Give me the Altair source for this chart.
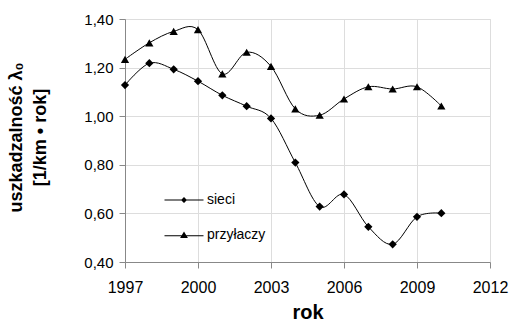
import altair as alt
import pandas as pd

years = list(range(1997, 2011))
sieci = [1.128, 1.218, 1.193, 1.144, 1.086, 1.041, 0.991, 0.809, 0.628, 0.678, 0.545, 0.473, 0.586, 0.601]
przylaczy = [1.234, 1.302, 1.349, 1.356, 1.174, 1.263, 1.205, 1.030, 1.004, 1.071, 1.121, 1.112, 1.121, 1.042]
series = ["sieci", "przyłaczy"]
x_ticks = [1997, 2000, 2003, 2006, 2009, 2012]
y_ticks = [0.4, 0.6, 0.8, 1.0, 1.2, 1.4]

df = pd.DataFrame({
    "rok": years + years,
    "value": sieci + przylaczy,
    "series": [series[0]] * len(years) + [series[1]] * len(years),
})

FONT = "Liberation Sans"

x_enc = alt.X(
    "rok:Q",
    scale=alt.Scale(domain=[1997, 2012], nice=False, zero=False),
    axis=alt.Axis(
        values=x_ticks, format="d", tickSize=6, labelPadding=11, labelFontSize=16,
        labelFlush=False, labelOverlap=False,
        title="rok", titleFontSize=20, titleFontWeight="bold",
        titleBaseline="alphabetic", titleX=182.5, titleY=56,
    ),
)
y_enc = alt.Y(
    "value:Q",
    scale=alt.Scale(domain=[0.4, 1.4], nice=False, zero=False),
    axis=alt.Axis(
        values=y_ticks, labelExpr="replace(format(datum.value, '.2f'), '.', ',')",
        tickSize=6, labelPadding=6, labelFontSize=15, labelFlush=False,
        title=["uszkadzalność λ₀", "[1/km • rok]"], titleFontSize=18, titleFontWeight="bold",
        titleBaseline="alphabetic", titleLineHeight=24, titleX=-104, titleY=118,
        titleAngle=270, titleAlign="center",
    ),
)

lines = alt.Chart(df).mark_line(interpolate="cardinal", color="black", strokeWidth=1).encode(
    x=x_enc, y=y_enc, detail="series:N"
)

points = alt.Chart(df).mark_point(filled=True, color="black", opacity=1).encode(
    x="rok:Q", y="value:Q",
    shape=alt.Shape("series:N", scale=alt.Scale(domain=series, range=["diamond", "triangle-up"]), legend=None),
    size=alt.value(68),
)

# legend symbols: thin filled bar (the line) plus the marker
path_d = "M-6.5,-0.17L6.5,-0.17L6.5,0.17L-6.5,0.17ZM0,-1L1,0L0,1L-1,0Z"
path_t = "M-6.5,0.1L6.5,0.1L6.5,0.43L-6.5,0.43ZM0,-1.2L1.3,1L-1.3,1Z"

legend_layer = alt.Chart(df).mark_point(filled=True, color="black", opacity=1).encode(
    shape=alt.Shape(
        "series:N",
        scale=alt.Scale(domain=series, range=[path_d, path_t]),
        legend=alt.Legend(
            title=None, orient="none", legendX=52, legendY=174, padding=0,
            labelFontSize=14, labelFont=FONT, labelColor="black", labelOffset=16,
            symbolSize=36, symbolStrokeWidth=0, symbolFillColor="black",
            symbolOpacity=1, rowPadding=21,
        ),
    ),
).transform_filter("false")

chart = alt.layer(lines, points, legend_layer).resolve_scale(shape="independent").properties(
    width=365, height=243,
    autosize=alt.AutoSizeParams(type="none"),
    padding={"left": 125, "top": 19, "right": 21, "bottom": 59},
).configure_view(
    stroke="black", strokeWidth=1
).configure_axis(
    grid=False, domainColor="black", tickColor="black", labelColor="black", titleColor="black",
    labelFont=FONT, titleFont=FONT, domainWidth=1, tickWidth=1,
).configure(background="white")

chart.save("out.html", embed_options={"renderer": "svg", "actions": False})
